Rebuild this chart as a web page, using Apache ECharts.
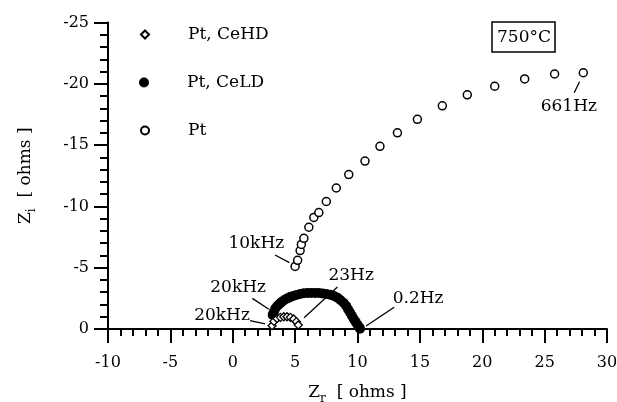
<!DOCTYPE html>
<html>
<head>
<meta charset="utf-8">
<script src="https://cdn.jsdelivr.net/npm/echarts@6/dist/echarts.min.js"></script>
<style>
html,body{margin:0;padding:0;background:#fff;}
#chart{width:617px;height:402px;}
</style>
</head>
<body>
<div id="chart"></div>
<script>
// ---- data ----
var seriesNames = ['Pt, CeHD', 'Pt, CeLD', 'Pt'];
var xTicks = [-10, -5, 0, 5, 10, 15, 20, 25, 30];
var yTicks = [-25, -20, -15, -10, -5, 0];

// Pt, CeHD (open diamonds): [Zr, Zi]
var ptCeHD = [
  [3.15,-0.27],[3.30,-0.62],[3.55,-0.85],[3.82,-0.95],[4.09,-1.00],
  [4.35,-1.00],[4.62,-0.95],[4.88,-0.82],[5.10,-0.60],[5.25,-0.33]
];
// Pt, CeLD (filled circles)
var ptCeLD = [
  [3.20,-1.15],[3.30,-1.40],[3.40,-1.65],[3.55,-1.85],[3.70,-2.00],
  [3.85,-2.15],[4.00,-2.27],[4.20,-2.40],[4.40,-2.50],[4.60,-2.60],
  [4.85,-2.70],[5.10,-2.78],[5.40,-2.86],[5.70,-2.92],[6.00,-2.93],
  [6.30,-2.93],[6.60,-2.93],[6.90,-2.93],[7.20,-2.90],[7.50,-2.86],
  [7.80,-2.80],[8.10,-2.70],[8.40,-2.55],[8.65,-2.35],[8.90,-2.12],
  [9.10,-1.88],[9.25,-1.60],[9.40,-1.35],[9.55,-1.08],[9.70,-0.82],
  [9.85,-0.58],[10.00,-0.35],[10.15,-0.15],[10.20,-0.03]
];
// Pt (open circles)
var pt = [
  [5.0,-5.1],[5.2,-5.6],[5.4,-6.4],[5.5,-6.9],[5.7,-7.4],[6.1,-8.3],
  [6.5,-9.1],[6.9,-9.5],[7.5,-10.4],[8.3,-11.5],[9.3,-12.6],[10.6,-13.7],
  [11.8,-14.9],[13.2,-16.0],[14.8,-17.1],[16.8,-18.2],[18.8,-19.1],
  [21.0,-19.8],[23.4,-20.4],[25.8,-20.8],[28.1,-20.9]
];
// frequency annotations: text, text position, leader line from/to (data units)
var annoText = ['661Hz', '10kHz', '20kHz', '20kHz', '23Hz', '0.2Hz'];
var annoPos = [[26.94,-18.13],[1.89,-6.99],[0.43,-3.40],[-0.86,-1.08],[9.49,-4.32],[14.86,-2.45]];
var annoLine = [
  [[27.80,-20.17],[27.37,-19.27]],
  [[3.39,-6.04],[4.54,-5.41]],
  [[1.57,-2.50],[2.89,-1.61]],
  [[1.39,-0.68],[2.59,-0.41]],
  [[8.39,-3.43],[5.72,-0.92]],
  [[12.94,-1.77],[10.69,-0.24]]
];
var tempLabel = '750°C';

// ---- chart ----
var FONT = 'DejaVu Serif';
var chart = echarts.init(document.getElementById('chart'), null, {renderer: 'canvas'});

var nameRich = {
  a: {fontFamily: FONT, fontSize: 17, color: '#000', lineHeight: 24},
  s: {fontFamily: FONT, fontSize: 12, color: '#000', lineHeight: 12, verticalAlign: 'bottom'}
};

function legendFor(name, top, h) {
  return {
    data: [name], orient: 'vertical', left: 144 - h / 2, top: top,
    itemWidth: h, itemHeight: h, itemGap: 0, padding: 0,
    selectedMode: false,
    textStyle: {fontFamily: FONT, fontSize: 17, color: '#000', padding: [0, 0, 0, 43 - h / 2 - 5]}
  };
}

var option = {
  animation: false,
  backgroundColor: '#fff',
  grid: {left: 108, right: 10, top: 22.5, bottom: 73, containLabel: false, outerBoundsMode: 'none'},
  title: {
    text: tempLabel, left: 492, top: 22,
    padding: [7, 4, 6, 5],
    borderColor: '#000', borderWidth: 1.5,
    textStyle: {fontFamily: FONT, fontSize: 17, fontWeight: 'normal', color: '#000'}
  },
  legend: [
    legendFor(seriesNames[0], 26, 8),
    legendFor(seriesNames[1], 74, 10),
    legendFor(seriesNames[2], 122, 8)
  ],
  xAxis: {
    type: 'value', min: xTicks[0], max: xTicks[xTicks.length-1], interval: 5,
    name: '{a|Z}{s|r}{a|  [ ohms ]}', nameLocation: 'middle', nameGap: 52,
    nameTextStyle: {rich: nameRich},
    axisLine: {onZero: false, lineStyle: {color: '#000', width: 2}},
    axisTick: {show: true, inside: false, length: 14, lineStyle: {color: '#000', width: 2}},
    minorTick: {show: true, splitNumber: 5, length: 7, lineStyle: {color: '#000', width: 2}},
    axisLabel: {margin: 26, fontFamily: FONT, fontSize: 16, color: '#000'},
    splitLine: {show: false}
  },
  yAxis: {
    type: 'value', min: yTicks[0], max: yTicks[yTicks.length-1], interval: 5, inverse: true,
    name: '{a|Z}{s|i}{a|  [ ohms ]}', nameLocation: 'middle', nameGap: 70, nameRotate: 90,
    nameTextStyle: {rich: nameRich},
    axisLine: {onZero: false, lineStyle: {color: '#000', width: 2}},
    axisTick: {show: true, inside: false, length: 14, lineStyle: {color: '#000', width: 2}},
    minorTick: {show: true, splitNumber: 5, length: 8, lineStyle: {color: '#000', width: 2}},
    axisLabel: {margin: 19, fontFamily: FONT, fontSize: 16, color: '#000'},
    splitLine: {show: false}
  },
  series: [
    {
      name: seriesNames[0], type: 'scatter', data: ptCeHD, symbol: 'diamond', symbolSize: 8,
      itemStyle: {color: '#fff', borderColor: '#000', borderWidth: 1.3, opacity: 1}, z: 4
    },
    {
      name: seriesNames[1], type: 'scatter', data: ptCeLD, symbol: 'circle', symbolSize: 10,
      itemStyle: {color: '#000', borderColor: '#000', borderWidth: 0, opacity: 1}, z: 3
    },
    {
      name: seriesNames[2], type: 'scatter', data: pt, symbol: 'circle', symbolSize: 8,
      itemStyle: {color: '#fff', borderColor: '#000', borderWidth: 1.5, opacity: 1}, z: 3
    },
    {
      name: 'leaders', type: 'lines', coordinateSystem: 'cartesian2d', silent: true,
      data: annoLine.map(function (c) { return {coords: c}; }),
      lineStyle: {color: '#000', width: 1.3, opacity: 1}, z: 2
    },
    {
      name: 'annotations', type: 'scatter', symbolSize: 0, silent: true,
      itemStyle: {opacity: 1, color: '#000'},
      data: annoPos.map(function (p, i) { return {value: p, name: annoText[i]}; }),
      label: {
        show: true, position: 'inside', formatter: function (p) { return p.name; },
        fontFamily: FONT, fontSize: 17, color: '#000', opacity: 1
      }, z: 5
    }
  ]
};
chart.setOption(option);
</script>
</body>
</html>
